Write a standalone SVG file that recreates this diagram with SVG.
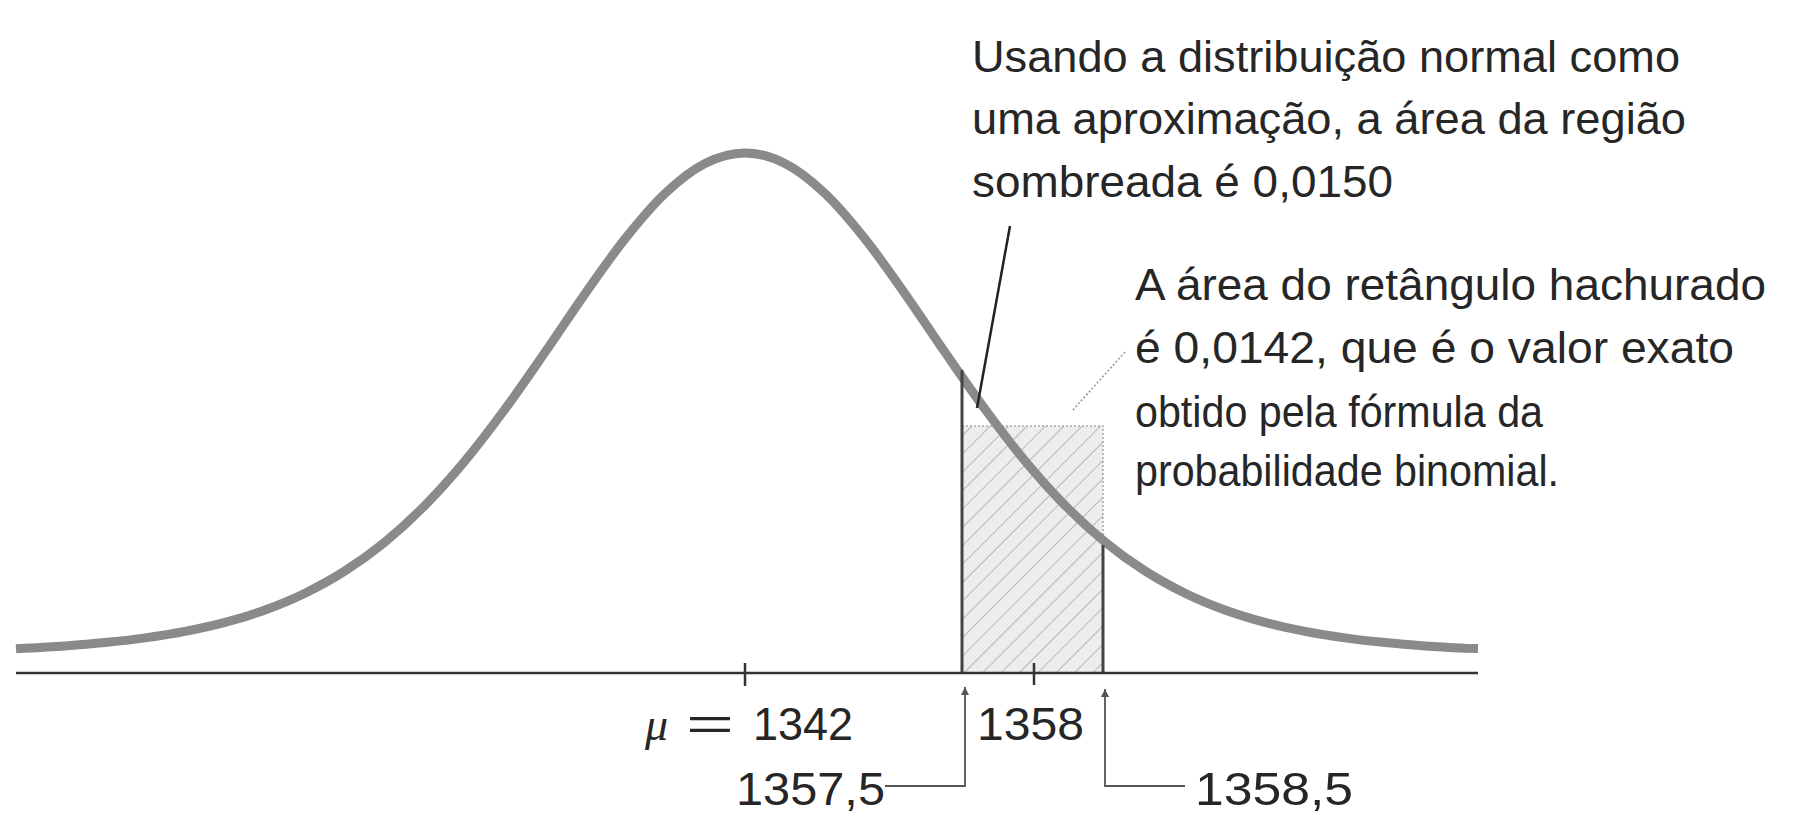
<svg xmlns="http://www.w3.org/2000/svg" width="1798" height="815" viewBox="0 0 1798 815">
<style>
.lbl{font-family:"Liberation Sans",Arial,sans-serif;fill:#262626;font-size:44px}
.num{font-family:"Liberation Sans",Arial,sans-serif;fill:#262626;font-size:46px}
.conn{fill:none;stroke:#555;stroke-width:1.8}
</style>
<defs>
<pattern id="hatch" patternUnits="userSpaceOnUse" width="13" height="13" patternTransform="rotate(45)">
<rect width="13" height="13" fill="#ededed"/>
<line x1="0" y1="0" x2="0" y2="13" stroke="#9a9a9a" stroke-width="1.3"/>
</pattern>
<marker id="arr" viewBox="0 0 10 10" refX="10" refY="5" markerWidth="14" markerHeight="8" markerUnits="userSpaceOnUse" orient="auto">
<path d="M0,0 L10,5 L0,10 Z" fill="#555"/>
</marker>
</defs>
<rect width="1798" height="815" fill="#fff"/>
<g id="rect-area">
<rect x="962" y="426" width="141" height="247" fill="url(#hatch)"/>
<path d="M962,426 H1103 V547" fill="none" stroke="#aaa" stroke-width="1.6" stroke-dasharray="2 2"/>
</g>
<g id="curve">
<path fill="none" stroke="#8a8a8a" stroke-width="9" stroke-linejoin="round" d="M16,648.7 L25,648.2
C38.33,647.53 51.67,646.83 65,645.9
C78.33,644.97 91.67,643.93 105,642.6
C118.33,641.27 131.67,639.77 145,637.9
C158.33,636.03 171.67,633.98 185,631.4
C198.33,628.82 211.67,625.97 225,622.4
C238.33,618.83 251.67,614.87 265,610
C278.33,605.13 291.67,599.72 305,593.2
C318.33,586.68 331.67,579.45 345,570.9
C358.33,562.35 371.67,552.82 385,541.9
C398.33,530.98 411.67,518.9 425,505.4
C438.33,491.9 451.67,476.93 465,460.9
C478.33,444.87 491.67,427.3 505,409.2
C518.33,391.1 531.67,371.53 545,352.3
C558.33,333.07 571.67,312.7 585,293.8
C598.33,274.9 611.67,255.62 625,238.9
C638.33,222.18 651.67,206.07 665,193.5
C678.33,180.93 691.67,170.25 705,163.5
C718.33,156.75 731.67,153 745,153
C758.33,153 771.67,156.75 785,163.5
C798.33,170.25 811.67,180.93 825,193.5
C838.33,206.07 851.67,222.18 865,238.9
C878.33,255.62 891.67,274.9 905,293.8
C918.33,312.7 931.67,333.07 945,352.3
C958.33,371.53 971.67,391.1 985,409.2
C998.33,427.3 1011.67,444.87 1025,460.9
C1038.33,476.93 1051.67,491.9 1065,505.4
C1078.33,518.9 1091.67,530.98 1105,541.9
C1118.33,552.82 1131.67,562.35 1145,570.9
C1158.33,579.45 1171.67,586.68 1185,593.2
C1198.33,599.72 1211.67,605.13 1225,610
C1238.33,614.87 1251.67,618.83 1265,622.4
C1278.33,625.97 1291.67,628.82 1305,631.4
C1318.33,633.98 1331.67,636.03 1345,637.9
C1358.33,639.77 1371.67,641.27 1385,642.6
C1398.33,643.93 1411.67,644.97 1425,645.9
C1438.33,646.83 1451.67,647.53 1465,648.2
L1478,648.5"/>
</g>
<g id="bounds">
<line x1="962" y1="370" x2="962" y2="673" stroke="#444" stroke-width="3"/>
<line x1="1103" y1="545" x2="1103" y2="673" stroke="#444" stroke-width="3"/>
</g>
<g id="axis">
<line x1="16" y1="673" x2="1478" y2="673" stroke="#333" stroke-width="2.5"/>
<line x1="745" y1="663" x2="745" y2="686" stroke="#333" stroke-width="2.5"/>
<line x1="1034" y1="663" x2="1034" y2="685" stroke="#333" stroke-width="2.5"/>
</g>
<g id="connectors">
<line x1="1010" y1="226" x2="977" y2="408" stroke="#222" stroke-width="2.5"/>
<line x1="1125" y1="352" x2="1072" y2="411" stroke="#999" stroke-width="1.6" stroke-dasharray="2 2"/>
<path class="conn" d="M885,786 H965 V687" marker-end="url(#arr)"/>
<path class="conn" d="M1185,786 H1105 V689" marker-end="url(#arr)"/>
</g>
<g id="label-mu">
<text class="num" y="740"><tspan x="645" font-family="Liberation Serif" font-style="italic">μ</tspan><tspan x="686" textLength="48" lengthAdjust="spacingAndGlyphs">=</tspan><tspan x="753" textLength="100" lengthAdjust="spacingAndGlyphs">1342</tspan></text>
</g>
<g id="label-1358">
<text class="num" x="977" y="740" textLength="107" lengthAdjust="spacingAndGlyphs">1358</text>
</g>
<g id="label-13575">
<text class="num" x="736" y="805" textLength="149" lengthAdjust="spacingAndGlyphs">1357,5</text>
</g>
<g id="label-13585">
<text class="num" x="1195" y="805" textLength="158" lengthAdjust="spacingAndGlyphs">1358,5</text>
</g>
<g id="note-normal">
<text class="lbl" x="972" y="72" textLength="708" lengthAdjust="spacingAndGlyphs">Usando a distribuição normal como</text>
<text class="lbl" x="972" y="134" textLength="714" lengthAdjust="spacingAndGlyphs">uma aproximação, a área da região</text>
<text class="lbl" x="972" y="197" textLength="421" lengthAdjust="spacingAndGlyphs">sombreada é 0,0150</text>
</g>
<g id="note-binomial">
<text class="lbl" x="1135" y="300" textLength="631" lengthAdjust="spacingAndGlyphs">A área do retângulo hachurado</text>
<text class="lbl" x="1135" y="363" textLength="599" lengthAdjust="spacingAndGlyphs">é 0,0142, que é o valor exato</text>
<text class="lbl" x="1135" y="427" textLength="408" lengthAdjust="spacingAndGlyphs">obtido pela fórmula da</text>
<text class="lbl" x="1135" y="486" textLength="424" lengthAdjust="spacingAndGlyphs">probabilidade binomial.</text>
</g>
</svg>
